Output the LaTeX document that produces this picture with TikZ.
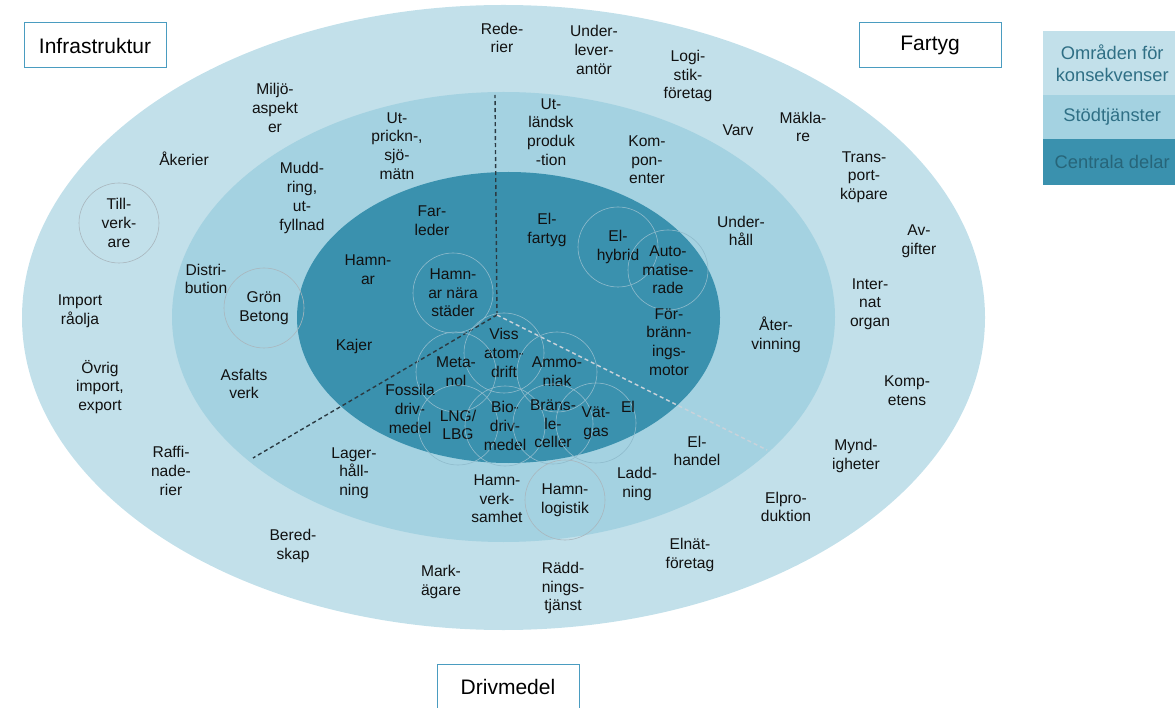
\documentclass[tikz,border=0pt]{standalone}
\usepackage{fontspec}
\setmainfont{Liberation Sans}
\usepackage{xcolor}
\definecolor{outerc}{HTML}{C2E0EA}
\definecolor{midc}{HTML}{A4D2E1}
\definecolor{innerc}{HTML}{3A91AE}
\definecolor{bubbleline}{HTML}{A9B6BD}
\definecolor{bubblelight}{HTML}{8FBBCC}
\definecolor{boxline}{HTML}{4A9CC0}
\definecolor{legtext}{HTML}{2F6F85}
\definecolor{legdark}{HTML}{276579}
\definecolor{dashdark}{HTML}{2B3A42}
\definecolor{dashlight}{HTML}{C9D2DA}
\definecolor{labeltext}{HTML}{111111}

\begin{document}
\begin{tikzpicture}[x=1pt, y=-1pt,
  lbl/.style={align=center, inner sep=0pt, text=labeltext, font=\fontsize{15.6}{18.7}\selectfont},
  bubble/.style={lbl, circle, draw=bubbleline, line width=0.6pt, minimum size=80pt},
  darkbubble/.style={bubble, draw=bubblelight},
  catbox/.style={draw=boxline, line width=1pt, fill=white, minimum width=142pt, minimum height=45pt, font=\fontsize{21}{25}\selectfont},
  legbox/.style={anchor=north west, minimum width=138pt, inner sep=0pt, align=center, text=legtext, font=\fontsize{18.3}{21.5}\selectfont},
  divider/.style={line width=1.4pt, dash pattern=on 4pt off 3pt}]
  \useasboundingbox (0,0) rectangle (1175,708);

  % Ellipser
  \fill[outerc] (503.5,317.5) ellipse [x radius=481.5pt, y radius=312.5pt];
  \fill[midc] (503.5,317) ellipse [x radius=331.5pt, y radius=225pt];
  \fill[innerc] (508.5,317.5) ellipse [x radius=211.5pt, y radius=145.5pt];

  % Skiljelinjer
  \coordinate (hub) at (497,315);
  \coordinate (uppe) at (495,95);
  \coordinate (vanster) at (253,458);
  \coordinate (hoger) at (767,450);
  \draw[divider, dashdark] (hub) -- (uppe);
  \draw[divider, dashdark] (hub) -- (vanster);
  \draw[divider, dashlight] (hub) -- (hoger);

  % Centrala delar
  \node[lbl] (farleder) at (432,221) {Far-\\leder};
  \node[lbl] (hamnar) at (368,270) {Hamn-\\ar};
  \node[darkbubble] (stader) at (453,293) {Hamn-\\ar nära\\städer};
  \node[lbl] (kajer) at (354,346) {Kajer};
  \node[lbl] (elfartyg) at (547,230) {El-\\fartyg};
  \node[darkbubble] (elhybrid) at (618,247) {El-\\hybrid};
  \node[darkbubble] (automat) at (668,270) {Auto-\\matise-\\rade};
  \node[lbl] (forbr) at (669,342) {För-\\bränn-\\ings-\\motor};
  \node[darkbubble] (atom) at (504,353) {Viss\\atom-\\drift};
  \node[darkbubble] (metanol) at (456,372) {Meta-\\nol};
  \node[darkbubble] (ammoniak) at (557,372) {Ammo-\\niak};
  \node[lbl] (fossila) at (410,409) {Fossila\\driv-\\medel};
  \node[darkbubble] (lng) at (458,425) {LNG/\\LBG};
  \node[darkbubble] (bio) at (505,426) {Bio-\\driv-\\medel};
  \node[darkbubble] (brans) at (553,424) {Bräns-\\le-\\celler};
  \node[darkbubble] (vatgas) at (596,423) {Vät-\\gas};
  \node[lbl] (el) at (628,407) {El};

  % Stödtjänster
  \node[lbl] (utprick) at (397,146) {Ut-\\prickn-,\\sjö-\\mätn};
  \node[lbl] (mudd) at (302,198) {Mudd-\\ring,\\ut-\\fyllnad};
  \node[lbl] (distri) at (206,279) {Distri-\\bution};
  \node[bubble] (betong) at (264,308) {Grön\\Betong};
  \node[lbl] (asfalt) at (244,384) {Asfalts\\verk};
  \node[lbl] (lager) at (354,473) {Lager-\\håll-\\ning};
  \node[lbl] (verksamhet) at (497,499) {Hamn-\\verk-\\samhet};
  \node[bubble] (logistik) at (565,500) {Hamn-\\logistik};
  \node[lbl] (laddning) at (637,484) {Ladd-\\ning};
  \node[lbl] (elhandel) at (697,451) {El-\\handel};
  \node[lbl] (atervinning) at (776,335) {Åter-\\vinning};
  \node[lbl] (underhall) at (741,231) {Under-\\håll};
  \node[lbl] (komponenter) at (647,160) {Kom-\\pon-\\enter};
  \node[lbl] (utlandsk) at (551,132) {Ut-\\ländsk\\produk\\-tion};

  % Områden för konsekvenser
  \node[lbl] (rederier) at (502,38) {Rede-\\rier};
  \node[lbl] (underlev) at (594,50) {Under-\\lever-\\antör};
  \node[lbl] (logistikf) at (688,76) {Logi-\\stik-\\företag};
  \node[lbl] (varv) at (738,130) {Varv};
  \node[lbl] (maklare) at (803,127) {Mäkla-\\re};
  \node[lbl] (transport) at (864,177) {Trans-\\port-\\köpare};
  \node[lbl] (avgifter) at (919,241) {Av-\\gifter};
  \node[lbl] (internat) at (870,304) {Inter-\\nat\\organ};
  \node[lbl] (kompetens) at (907,391) {Komp-\\etens};
  \node[lbl] (myndigh) at (856,456) {Mynd-\\igheter};
  \node[lbl] (elprod) at (786,507) {Elpro-\\duktion};
  \node[lbl] (elnat) at (690,555) {Elnät-\\företag};
  \node[lbl] (raddning) at (563,588) {Rädd-\\nings-\\tjänst};
  \node[lbl] (markagare) at (441,582) {Mark-\\ägare};
  \node[lbl] (beredskap) at (293,546) {Bered-\\skap};
  \node[lbl] (raffinad) at (171,471) {Raffi-\\nade-\\rier};
  \node[lbl] (ovrig) at (100,387) {Övrig\\import,\\export};
  \node[lbl] (raolja) at (80,311) {Import\\råolja};
  \node[bubble] (tillverk) at (119,223) {Till-\\verk-\\are};
  \node[lbl] (akerier) at (184,159) {Åkerier};
  \node[lbl] (miljo) at (275,108) {Miljö-\\aspekt\\er};

  % Rubriker
  \node[catbox] (infra) at (95,45.5) {Infrastruktur};
  \node[catbox] (fartyg) at (930,45.5) {Fartyg};
  \node[catbox] (drivmedel) at (508,687) {Drivmedel};

  % Förklaring
  \node[legbox, fill=outerc, minimum height=64pt] (omraden) at (1043,31) {Områden för\\konsekvenser};
  \node[legbox, fill=midc, minimum height=44pt] (stod) at (1043,95) {Stödtjänster};
  \node[legbox, fill=innerc, minimum height=46pt, text=legdark] (centrala) at (1043,139) {Centrala delar};
\end{tikzpicture}
\end{document}
